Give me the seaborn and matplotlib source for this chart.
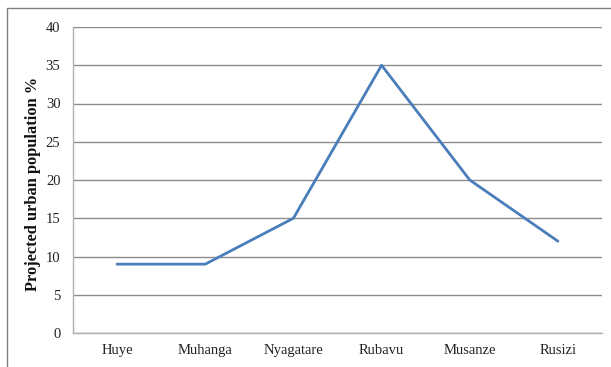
import matplotlib
matplotlib.use("Agg")
import matplotlib.pyplot as plt
from matplotlib.lines import Line2D
import seaborn as sns
import pandas as pd

districts = ["Huye", "Muhanga", "Nyagatare", "Rubavu", "Musanze", "Rusizi"]
urban_pct = [9, 9, 15, 35, 20, 12]
y_ticks = [0, 5, 10, 15, 20, 25, 30, 35, 40]

df = pd.DataFrame({"district": districts, "pct": urban_pct})

sns.set_theme(style="white")
plt.rcParams["font.family"] = ["Liberation Serif", "DejaVu Serif"]

fig = plt.figure(figsize=(6.11, 3.67), dpi=100)
ax = fig.add_axes([73 / 611, 1 - 333 / 367, (602 - 73) / 611, (333 - 27) / 367])

x = list(range(len(districts)))
df["x"] = x
sns.lineplot(data=df, x="x", y="pct", ax=ax, color="#4A7EBB", linewidth=2.0,
             sort=False)

ax.set_xlim(-0.5, len(districts) - 0.5)
ax.set_ylim(0, 40)
ax.set_yticks(y_ticks)
ax.set_xticks(x)
ax.set_xticklabels(districts)
ax.yaxis.grid(True, color="#8c8c8c", linewidth=1.0)
ax.xaxis.grid(False)
ax.tick_params(axis="both", length=0, labelsize=10.5, colors="#222222")
ax.tick_params(axis="y", pad=9)
ax.tick_params(axis="x", pad=8)

for side in ["top", "right"]:
    ax.spines[side].set_visible(False)
for side in ["left", "bottom"]:
    ax.spines[side].set_color("#b0b0b0")
    ax.spines[side].set_linewidth(1.0)

ax.set_xlabel("")
ax.set_ylabel("Projected urban population %", fontsize=11.8, fontweight="bold",
              color="#111111")
ax.yaxis.set_label_coords((41 - 73) / 529, 0.487)

# outer chart frame (top and left edges)
fig.add_artist(Line2D([7 / 611, 1.0], [1 - 8 / 367, 1 - 8 / 367],
                      transform=fig.transFigure, color="#808080", linewidth=1.0))
fig.add_artist(Line2D([7 / 611, 7 / 611], [0.0, 1 - 8 / 367],
                      transform=fig.transFigure, color="#808080", linewidth=1.0))

fig.savefig("out.png", dpi=100)
